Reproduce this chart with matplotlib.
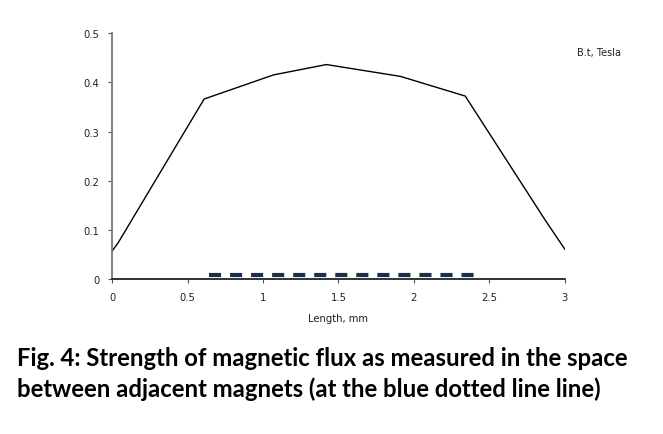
import matplotlib
matplotlib.use("Agg")
import matplotlib.pyplot as plt

# flux curve
length_mm = [0.0, 0.04, 0.61, 1.07, 1.42, 1.91, 2.34, 2.87, 3.0]
flux_t = [0.057, 0.074, 0.366, 0.415, 0.436, 0.412, 0.372, 0.12, 0.061]

# blue dashed marker line
dash_x = [0.64, 2.45]
dash_y = [0.009, 0.009]

xticks = [0, 0.5, 1, 1.5, 2, 2.5, 3]
xtick_labels = ["0", "0.5", "1", "1.5", "2", "2.5", "3"]
yticks = [0, 0.1, 0.2, 0.3, 0.4, 0.5]
ytick_labels = ["0", "0.1", "0.2", "0.3", "0.4", "0.5"]

fig = plt.figure(figsize=(6.63, 4.35), dpi=100)
ax = fig.add_axes([0.169, 0.3556, 0.683, 0.5662])

ax.plot(length_mm, flux_t, color="black", lw=1.0)
ax.plot(dash_x, dash_y, color="#1b2f4d", lw=3.0, dashes=(2.9, 2.15), solid_capstyle="butt")

ax.set_xlim(0, 3)
ax.set_ylim(0, 0.5)
ax.set_xticks(xticks)
ax.set_xticklabels(xtick_labels)
ax.set_yticks(yticks)
ax.set_yticklabels(ytick_labels)
ax.tick_params(labelsize=7.2, length=3, width=0.8, colors="#555555", labelcolor="#222222", pad=6)

for s in ["top", "right"]:
    ax.spines[s].set_visible(False)
ax.spines["left"].set_color("#777777")
ax.spines["left"].set_linewidth(1.3)
ax.spines["bottom"].set_color("#222222")
ax.spines["bottom"].set_linewidth(1.3)

ax.set_xlabel("Length, mm", fontsize=7.2, color="#222222", labelpad=8)

fig.text(0.870, 0.878, "B.t, Tesla", fontsize=7.0, color="#222222", va="center")

fig.text(0.026, 0.176, "Fig. 4: Strength of magnetic flux as measured in the space",
         fontsize=17.2, fontweight="bold", family="Lato", va="center")
fig.text(0.026, 0.106, "between adjacent magnets (at the blue dotted line line)",
         fontsize=17.2, fontweight="bold", family="Lato", va="center")

fig.savefig("out.png", dpi=100)
